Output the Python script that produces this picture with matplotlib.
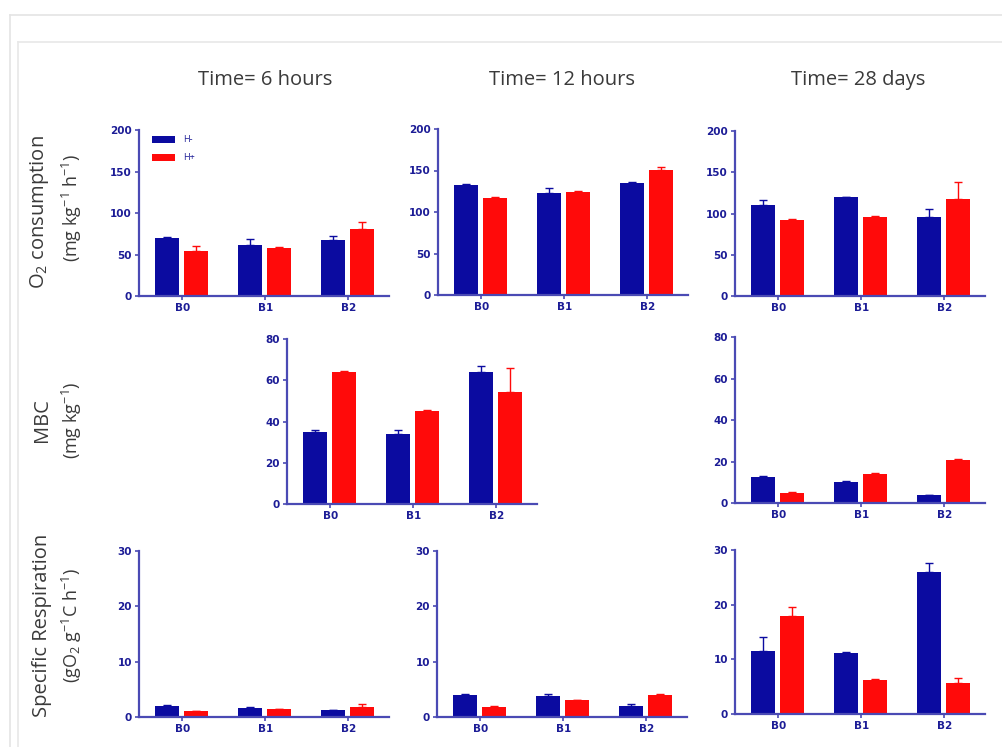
import matplotlib
matplotlib.use("Agg")
import matplotlib.pyplot as plt
from matplotlib.lines import Line2D
import numpy as np

plt.rcParams['font.family'] = ['Open Sans', 'DejaVu Sans']
plt.rcParams['mathtext.fontset'] = 'custom'
plt.rcParams['mathtext.rm'] = 'Open Sans'
plt.rcParams['mathtext.it'] = 'Open Sans:italic'

groups = ['B0', 'B1', 'B2']
times = ['Time= 6 hours', 'Time= 12 hours', 'Time= 28 days']
series = ['H-', 'H+']

# O2 consumption (mg kg-1 h-1)
o2_6h_hm = [70, 61, 68]
o2_6h_hm_err = [1, 8, 4]
o2_6h_hp = [54, 58, 81]
o2_6h_hp_err = [6, 1, 8]
o2_12h_hm = [133, 123, 135]
o2_12h_hm_err = [1, 6, 1]
o2_12h_hp = [117, 124, 151]
o2_12h_hp_err = [1, 1, 3]
o2_28d_hm = [110, 120, 96]
o2_28d_hm_err = [6, 0.5, 10]
o2_28d_hp = [92, 96, 118]
o2_28d_hp_err = [1, 1.5, 20]

# MBC (mg kg-1)
mbc_12h_hm = [35, 34, 64]
mbc_12h_hm_err = [1, 2, 3]
mbc_12h_hp = [64, 45, 54.5]
mbc_12h_hp_err = [0.5, 0.5, 11.5]
mbc_28d_hm = [12.6, 10.2, 3.7]
mbc_28d_hm_err = [0.3, 0.2, 0.2]
mbc_28d_hp = [4.8, 14.2, 20.6]
mbc_28d_hp_err = [0.3, 0.3, 0.5]

# Specific respiration (gO2 g-1C h-1)
sr_6h_hm = [2.0, 1.7, 1.2]
sr_6h_hm_err = [0.1, 0.1, 0.1]
sr_6h_hp = [1.0, 1.4, 1.8]
sr_6h_hp_err = [0.1, 0.1, 0.5]
sr_12h_hm = [4.0, 3.8, 2.0]
sr_12h_hm_err = [0.1, 0.3, 0.3]
sr_12h_hp = [1.8, 3.0, 3.9]
sr_12h_hp_err = [0.1, 0.1, 0.2]
sr_28d_hm = [11.6, 11.1, 25.9]
sr_28d_hm_err = [2.4, 0.2, 1.8]
sr_28d_hp = [17.9, 6.2, 5.6]
sr_28d_hp_err = [1.7, 0.2, 0.9]

BLUE = '#0b0ba0'
RED = '#ff0a0a'
AXC = '#4a4ab4'
TXT = '#1c1c96'
GREY = '#3a3a3a'

W, H = 1002, 747
fig = plt.figure(figsize=(W / 100, H / 100), dpi=100)

# light frame of the screenshot
fig.add_artist(Line2D([10 / W, 1], [1 - 15 / H, 1 - 15 / H], color='#e4e4e4', lw=1.2))
fig.add_artist(Line2D([10 / W, 10 / W], [1 - 15 / H, 0], color='#e4e4e4', lw=1.2))
fig.add_artist(Line2D([18 / W, 1], [1 - 42 / H, 1 - 42 / H], color='#e8e8e8', lw=1.2))
fig.add_artist(Line2D([18 / W, 18 / W], [1 - 42 / H, 0], color='#e8e8e8', lw=1.2))


def make_ax(x0, ytop, ybot, width=250):
    return fig.add_axes([x0 / W, 1 - ybot / H, width / W, (ybot - ytop) / H])


def draw(ax, hm, hm_err, hp, hp_err, ymax, step):
    x = np.arange(len(groups))
    bw = 0.29
    ax.bar(x - 0.18, hm, bw, color=BLUE, yerr=[np.zeros(3), hm_err],
           error_kw=dict(ecolor=BLUE, capsize=3, elinewidth=1, capthick=1), label=series[0])
    ax.bar(x + 0.17, hp, bw, color=RED, yerr=[np.zeros(3), hp_err],
           error_kw=dict(ecolor=RED, capsize=3, elinewidth=1, capthick=1), label=series[1])
    ax.set_xlim(-0.52, 2.49)
    ax.set_ylim(0, ymax)
    ax.set_yticks(np.arange(0, ymax + 1, step))
    ax.set_xticks(x)
    ax.set_xticklabels(groups)
    for s in ['top', 'right']:
        ax.spines[s].set_visible(False)
    for s in ['left', 'bottom']:
        ax.spines[s].set_color(AXC)
        ax.spines[s].set_linewidth(1.6)
    ax.tick_params(colors=AXC, labelcolor=TXT, length=3, width=1.2, labelsize=7.5, pad=2)
    for lab in ax.get_xticklabels() + ax.get_yticklabels():
        lab.set_fontweight('bold')
        lab.set_family('DejaVu Sans')


# row 1: O2 consumption
ax11 = make_ax(139, 130, 296)
draw(ax11, o2_6h_hm, o2_6h_hm_err, o2_6h_hp, o2_6h_hp_err, 200, 50)
leg = ax11.legend(loc='upper left', frameon=False, fontsize=6.5, handlelength=2.6,
                  handleheight=0.9, borderaxespad=0.2, labelspacing=1.0,
                  handletextpad=0.9, bbox_to_anchor=(0.03, 1.0))
for t in leg.get_texts():
    t.set_color(TXT)
ax12 = make_ax(438, 129, 295)
draw(ax12, o2_12h_hm, o2_12h_hm_err, o2_12h_hp, o2_12h_hp_err, 200, 50)
ax13 = make_ax(735, 131, 296)
draw(ax13, o2_28d_hm, o2_28d_hm_err, o2_28d_hp, o2_28d_hp_err, 200, 50)

# row 2: MBC
ax22 = make_ax(287, 339, 504)
draw(ax22, mbc_12h_hm, mbc_12h_hm_err, mbc_12h_hp, mbc_12h_hp_err, 80, 20)
ax23 = make_ax(735, 337, 503)
draw(ax23, mbc_28d_hm, mbc_28d_hm_err, mbc_28d_hp, mbc_28d_hp_err, 80, 20)

# row 3: specific respiration
ax31 = make_ax(139, 551, 717)
draw(ax31, sr_6h_hm, sr_6h_hm_err, sr_6h_hp, sr_6h_hp_err, 30, 10)
ax32 = make_ax(437, 551, 717)
draw(ax32, sr_12h_hm, sr_12h_hm_err, sr_12h_hp, sr_12h_hp_err, 30, 10)
ax33 = make_ax(735, 550, 714)
draw(ax33, sr_28d_hm, sr_28d_hm_err, sr_28d_hp, sr_28d_hp_err, 30, 10)

# column titles
for xc, t in zip([265, 562, 858], times):
    fig.text(xc / W, 1 - 80 / H, t, ha='center', va='center', fontsize=14.5, color=GREY)

# row labels
lab_kw = dict(rotation=90, ha='center', va='center', color=GREY)
fig.text(40 / W, 1 - 212 / H, r'O$_2$ consumption', fontsize=14.5, **lab_kw)
fig.text(72 / W, 1 - 208 / H, r'(mg kg$^{-1}$ h$^{-1}$)', fontsize=13, **lab_kw)
fig.text(42 / W, 1 - 420 / H, 'MBC', fontsize=14.5, **lab_kw)
fig.text(72 / W, 1 - 420 / H, r'(mg kg$^{-1}$)', fontsize=13, **lab_kw)
fig.text(42 / W, 1 - 625 / H, 'Specific Respiration', fontsize=14.5, **lab_kw)
fig.text(72 / W, 1 - 625 / H, r'(gO$_2$ g$^{-1}$C h$^{-1}$)', fontsize=13, **lab_kw)

fig.savefig('out.png', dpi=100, facecolor='white')
